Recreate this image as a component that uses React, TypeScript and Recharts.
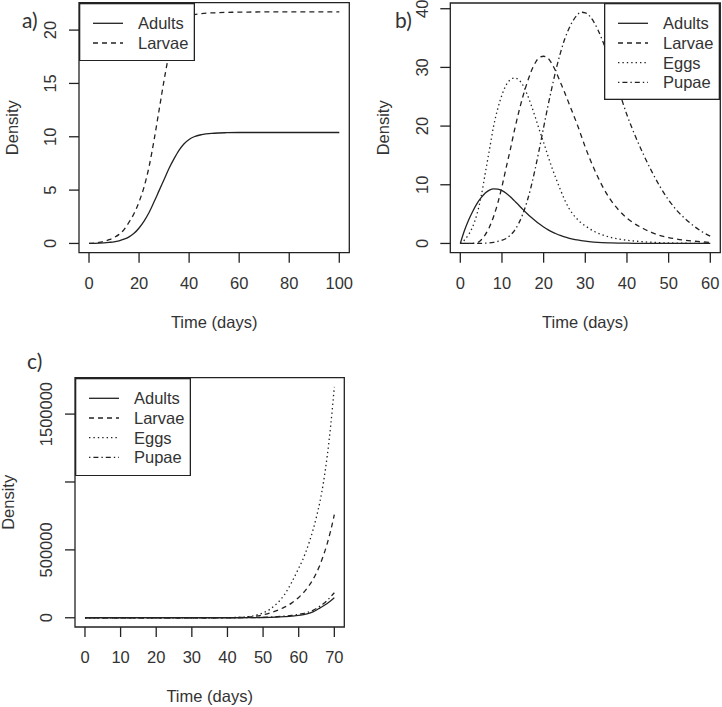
import React from 'react';
import { LineChart, Line, XAxis, YAxis, ReferenceArea, Legend, Label } from 'recharts';

const FONT = '"Liberation Sans", Arial, Helvetica, sans-serif';
const INK = '#222';
const TXT = '#333';
const FS = 16.5;

// ---------- Panel a ----------
const timeA = [0, 4, 8, 10, 12, 14, 16, 18, 20, 22, 24, 26, 28, 30, 32, 34, 36, 38, 40, 42, 45, 50, 55, 60, 70, 80, 90, 100];
const adultsA = [0, 0.03, 0.1, 0.15, 0.25, 0.4, 0.62, 0.95, 1.45, 2.1, 2.9, 3.9, 4.95, 6.0, 7.05, 7.95, 8.75, 9.35, 9.75, 10.0, 10.2, 10.33, 10.38, 10.4, 10.4, 10.4, 10.4, 10.4];
const larvaeA = [0, 0.1, 0.35, 0.55, 0.85, 1.3, 2.0, 2.8, 3.9, 5.3, 7.2, 9.7, 12.5, 15.3, 17.8, 19.6, 20.6, 21.1, 21.35, 21.45, 21.55, 21.62, 21.66, 21.68, 21.7, 21.7, 21.7, 21.7];
const xTicksA = [0, 20, 40, 60, 80, 100];
const yTicksA = [0, 5, 10, 15, 20];

// ---------- Panel b ----------
const timeB = [0, 1, 2, 3, 4, 5, 6, 7, 8, 9, 10, 11, 12, 13, 14, 15, 16, 17, 18, 19, 20, 21, 22, 23, 24, 25, 26, 27, 28, 29, 30,
  32, 34, 36, 38, 40, 42, 44, 46, 48, 50, 52, 54, 56, 58, 60];
const adultsB = [0, 2.2, 4.0, 5.5, 6.8, 7.8, 8.6, 9.1, 9.3, 9.25, 9.0, 8.55, 7.95, 7.25, 6.55, 5.8, 5.1, 4.45, 3.85, 3.3, 2.8, 2.35, 1.98, 1.65, 1.36, 1.12, 0.92, 0.75, 0.6, 0.48, 0.38,
  0.24, 0.15, 0.1, 0.06, 0.04, 0.025, 0.015, 0.01, 0.005, 0, 0, 0, 0, 0, 0];
const larvaeB = [0, 0, 0, 0.02, 0.1, 0.6, 1.5, 2.8, 4.6, 6.9, 9.7, 12.9, 16, 19.3, 22.3, 25, 27.3, 29.3, 30.8, 31.7, 31.9, 31.6, 30.6, 29.2, 27.5, 25.8, 24, 22.2, 20.4, 18.4, 16.4,
  12.9, 9.9, 7.5, 5.7, 4.3, 3.3, 2.5, 1.85, 1.35, 1.0, 0.75, 0.55, 0.4, 0.27, 0.18];
const eggsB = [0, 0.6, 1.5, 2.9, 5, 8, 12, 16, 20, 23, 25.3, 27, 27.9, 28.2, 27.9, 27, 25.5, 23.6, 21.5, 19.3, 17.2, 15.0, 12.9, 11.0, 9.2, 7.5, 6.1, 5.0, 4.2, 3.5, 3.0,
  2.1, 1.5, 1.05, 0.75, 0.55, 0.4, 0.28, 0.2, 0.13, 0.09, 0.06, 0.04, 0.02, 0.01, 0];
const pupaeB = [0, 0, 0, 0, 0, 0, 0.05, 0.1, 0.2, 0.35, 0.55, 0.85, 1.4, 2.2, 3.4, 5.0, 7.1, 9.7, 12.8, 16.2, 19.8, 23.3, 26.6, 29.7, 32.4, 34.7, 36.5, 37.9, 38.9, 39.4, 39.3,
  37.8, 34.8, 30.8, 26.2, 21.9, 18.3, 15.1, 12.2, 9.6, 7.4, 5.6, 4.2, 3.0, 2.0, 1.25];
const xTicksB = [0, 10, 20, 30, 40, 50, 60];
const yTicksB = [0, 10, 20, 30, 40];

// ---------- Panel c ----------
const timeC = [0, 10, 20, 30, 40, 42, 44, 46, 48, 50, 52, 54, 56, 58, 60, 61, 62, 63, 64, 65, 66, 67, 68, 69, 70];
const adultsC = [0, 0, 0, 0, 50, 150, 300, 600, 1000, 2000, 3500, 5500, 8500, 12000, 17000, 21000, 27000, 34000, 43000, 57000, 73000, 88000, 105000, 125000, 147000];
const larvaeC = [0, 0, 0, 0, 500, 1200, 3000, 6000, 12000, 22000, 36000, 55000, 78000, 108000, 150000, 175000, 205000, 240000, 282000, 332000, 392000, 463000, 546000, 644000, 760000];
const eggsC = [0, 0, 0, 0, 800, 1800, 4000, 9000, 19000, 36000, 64000, 108000, 170000, 260000, 365000, 420000, 485000, 560000, 645000, 745000, 860000, 1005000, 1190000, 1420000, 1700000];
const pupaeC = [0, 0, 0, 0, 100, 250, 500, 900, 1500, 3000, 5000, 8000, 12000, 17000, 25000, 30000, 37000, 45000, 55000, 69000, 86000, 105000, 128000, 155000, 184000];
const xTicksC = [0, 10, 20, 30, 40, 50, 60, 70];
const yTicksC = [0, 500000, 1000000, 1500000];
const hiddenYLabelsC = [1000000];

const DASH: Record<string, string | undefined> = {
  Adults: undefined,
  Larvae: '5 4',
  Eggs: '1.4 3',
  Pupae: '1.4 3 5 3',
};

type Cols = Record<string, number[]>;
const buildRows = (t: number[], cols: Cols) =>
  t.map((v, i) => {
    const r: Record<string, number> = { t: v };
    Object.keys(cols).forEach((k) => {
      r[k] = cols[k][i];
    });
    return r;
  });

const XTick = (props: any) => {
  const { x, y, payload } = props;
  return (
    <text x={x} y={y + 24} textAnchor="middle" fontSize={FS} fontFamily={FONT} fill={TXT}>
      {String(payload.value)}
    </text>
  );
};

const makeYTick = (hidden: number[]) => (props: any) => {
  const { x, y, payload } = props;
  if (hidden.includes(payload.value)) return <g />;
  const bx = x - 10.5;
  return (
    <text x={bx} y={y} transform={`rotate(-90, ${bx}, ${y})`} textAnchor="middle" fontSize={FS} fontFamily={FONT} fill={TXT}>
      {String(payload.value)}
    </text>
  );
};

const LegendBox = ({ names, w, h }: { names: string[]; w: number; h: number }) => (
  <svg width={w} height={h} style={{ display: 'block' }}>
    <rect x={0.65} y={0.65} width={w - 1.3} height={h - 1.3} fill="#fff" stroke={INK} strokeWidth={1.3} />
    {names.map((n, i) => {
      const cy = 20.3 + i * 19.7;
      return (
        <g key={n}>
          <line x1={14} x2={44} y1={cy} y2={cy} stroke={INK} strokeWidth={1.3} strokeDasharray={DASH[n]} />
          <text x={59} y={cy + 6} fontSize={FS} fontFamily={FONT} fill={TXT}>
            {n}
          </text>
        </g>
      );
    })}
  </svg>
);

type PanelProps = {
  left: number;
  top: number;
  width: number;
  height: number;
  margin: { top: number; right: number; bottom: number; left: number };
  yAxisWidth: number;
  xAxisHeight: number;
  xDomain: [number, number];
  yDomain: [number, number];
  xTicks: number[];
  yTicks: number[];
  hiddenY: number[];
  rows: Record<string, number>[];
  names: string[];
  legend: { left: number; top: number; width: number; height: number };
};

const Panel = (p: PanelProps) => (
  <div style={{ position: 'absolute', left: p.left, top: p.top }}>
    <LineChart width={p.width} height={p.height} data={p.rows} margin={p.margin}>
      <XAxis
        dataKey="t"
        type="number"
        domain={p.xDomain}
        allowDataOverflow
        ticks={p.xTicks}
        interval={0}
        axisLine={false}
        tickLine={{ stroke: INK, strokeWidth: 1.3 }}
        tickSize={10}
        tickMargin={2}
        height={p.xAxisHeight}
        tick={<XTick />}
      >
        <Label
          content={(lp: any) => {
            const vb = lp.viewBox || {};
            return (
              <text x={vb.x + vb.width / 2} y={vb.y + 75} textAnchor="middle" fontSize={FS} fontFamily={FONT} fill={TXT}>
                Time (days)
              </text>
            );
          }}
        />
      </XAxis>
      <YAxis
        type="number"
        domain={p.yDomain}
        allowDataOverflow
        ticks={p.yTicks}
        interval={0}
        axisLine={false}
        tickLine={{ stroke: INK, strokeWidth: 1.3 }}
        tickSize={10}
        tickMargin={2}
        width={p.yAxisWidth}
        tick={makeYTick(p.hiddenY)}
      >
        <Label
          content={(lp: any) => {
            const vb = lp.viewBox || {};
            const bx = vb.x + vb.width - 61;
            const by = vb.y + vb.height / 2;
            return (
              <text x={bx} y={by} transform={`rotate(-90, ${bx}, ${by})`} textAnchor="middle" fontSize={FS} fontFamily={FONT} fill={TXT}>
                Density
              </text>
            );
          }}
        />
      </YAxis>
      <ReferenceArea
        x1={p.xDomain[0]}
        x2={p.xDomain[1]}
        y1={p.yDomain[0]}
        y2={p.yDomain[1]}
        fill="none"
        fillOpacity={0}
        stroke={INK}
        strokeWidth={1.3}
        ifOverflow="visible"
      />
      {p.names.map((n) => (
        <Line
          key={n}
          dataKey={n}
          type="monotone"
          stroke={INK}
          strokeWidth={1.3}
          strokeDasharray={DASH[n]}
          dot={false}
          activeDot={false}
          isAnimationActive={false}
        />
      ))}
      <Legend
        layout="vertical"
        align="center"
        verticalAlign="middle"
        wrapperStyle={{
          position: 'absolute',
          left: p.legend.left,
          top: p.legend.top,
          width: p.legend.width,
          height: p.legend.height,
          margin: 0,
          padding: 0,
        }}
        content={() => <LegendBox names={p.names} w={p.legend.width} h={p.legend.height} />}
      />
    </LineChart>
  </div>
);

const PanelTag = ({ text, left, top }: { text: string; left: number; top: number }) => (
  <div
    style={{
      position: 'absolute',
      left,
      top,
      fontFamily: 'Lato, "Open Sans", sans-serif',
      fontSize: 21,
      lineHeight: 1,
      color: TXT,
    }}
  >
    {text}
  </div>
);

export default function App() {
  const rowsA = buildRows(timeA, { Adults: adultsA, Larvae: larvaeA });
  const rowsB = buildRows(timeB, { Adults: adultsB, Larvae: larvaeB, Eggs: eggsB, Pupae: pupaeB });
  const rowsC = buildRows(timeC, { Adults: adultsC, Larvae: larvaeC, Eggs: eggsC, Pupae: pupaeC });
  return (
    <div style={{ position: 'absolute', left: 0, top: 0, width: 722, height: 707, background: '#fff', overflow: 'hidden' }}>
      <Panel
        left={0}
        top={0}
        width={361}
        height={340}
        margin={{ top: 2.7, right: 11.7, bottom: 7.3, left: 0 }}
        yAxisWidth={79}
        xAxisHeight={80}
        xDomain={[-4, 104]}
        yDomain={[-0.868, 22.568]}
        xTicks={xTicksA}
        yTicks={yTicksA}
        hiddenY={[]}
        rows={rowsA}
        names={['Adults', 'Larvae']}
        legend={{ left: 79, top: 2.7, width: 116, height: 58.3 }}
      />
      <Panel
        left={361}
        top={0}
        width={361}
        height={340}
        margin={{ top: 3, right: 1.7, bottom: 7.3, left: 0 }}
        yAxisWidth={89.3}
        xAxisHeight={80}
        xDomain={[-2.4, 62.4]}
        yDomain={[-1.576, 40.976]}
        xTicks={xTicksB}
        yTicks={yTicksB}
        hiddenY={[]}
        rows={rowsB}
        names={['Adults', 'Larvae', 'Eggs', 'Pupae']}
        legend={{ left: 243.3, top: 3, width: 116, height: 97 }}
      />
      <Panel
        left={0}
        top={340}
        width={361}
        height={367}
        margin={{ top: 37.7, right: 16.7, bottom: 0, left: 0 }}
        yAxisWidth={75}
        xAxisHeight={80}
        xDomain={[-2.8, 72.8]}
        yDomain={[-68000, 1768000]}
        xTicks={xTicksC}
        yTicks={yTicksC}
        hiddenY={hiddenYLabelsC}
        rows={rowsC}
        names={['Adults', 'Larvae', 'Eggs', 'Pupae']}
        legend={{ left: 75, top: 37.7, width: 116, height: 98.3 }}
      />
      <PanelTag text="a)" left={22} top={9} />
      <PanelTag text="b)" left={395} top={9} />
      <PanelTag text="c)" left={27} top={350} />
    </div>
  );
}
